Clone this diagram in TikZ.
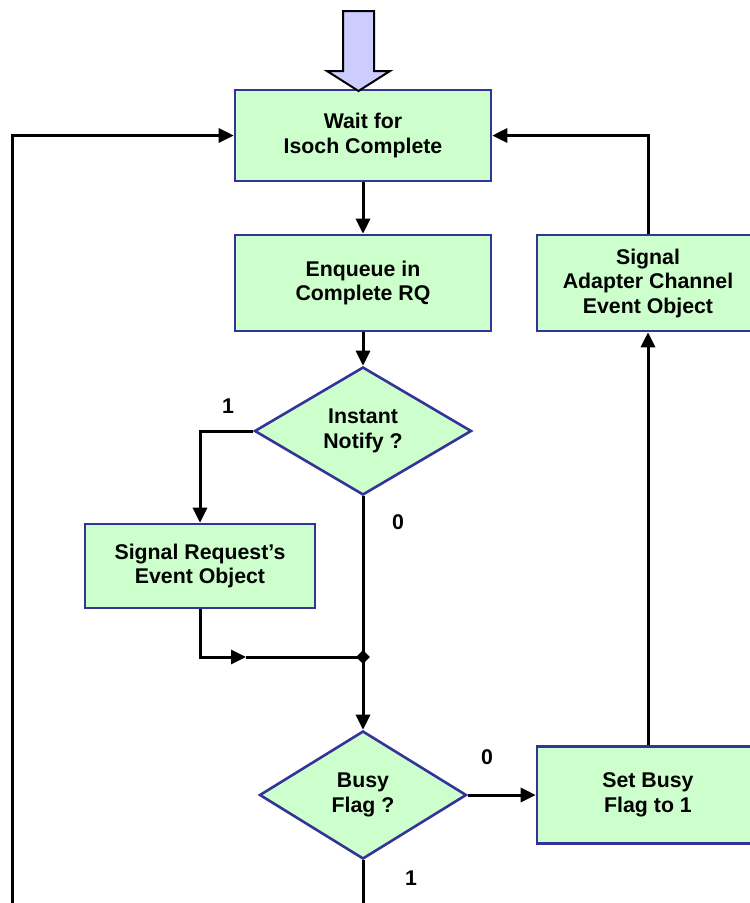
\documentclass[tikz,border=0pt]{standalone}
\usepackage{fontspec}
\setmainfont{Liberation Sans}
\usetikzlibrary{shapes.geometric,arrows.meta}
\definecolor{boxfill}{HTML}{CCFFCC}
\definecolor{boxline}{HTML}{333399}
\definecolor{entryfill}{HTML}{CCCCFF}
\begin{document}
\begin{tikzpicture}[x=1pt,y=-1pt,
  every node/.style={font=\fontsize{21.3}{24.5}\selectfont\bfseries},
  procbox/.style={draw=boxline, fill=boxfill, line width=2.6pt, align=center, inner sep=0pt},
  decision/.style={diamond, draw=boxline, fill=boxfill, line width=2.6pt, align=center, inner sep=0pt},
  flow/.style={line width=3pt, -{Triangle[length=15pt,width=14pt]}},
  plain/.style={line width=3pt},
  lbl/.style={inner sep=0pt}]
\clip (0,0) rectangle (750,903);

% process boxes
\node[procbox, minimum width=256pt, minimum height=91pt] (wait) at (363,135.5) {Wait for\\Isoch Complete};
\node[procbox, minimum width=256pt, minimum height=96pt] (enqueue) at (363,283) {Enqueue in\\Complete RQ};
\node[procbox, minimum width=230pt, minimum height=84pt] (sigreq) at (200,566) {Signal Request’s\\Event Object};
\node[procbox, minimum width=222pt, minimum height=96pt] (adapter) at (648,283) {Signal\\Adapter Channel\\Event Object};
\node[procbox, minimum width=222pt, minimum height=97pt] (setbusy) at (648,795) {Set Busy\\Flag to 1};

% decisions
\node[decision, aspect=1.695, minimum width=217pt, minimum height=128pt] (instant) at (363,431) {Instant\\Notify ?};
\node[decision, aspect=1.617, minimum width=207pt, minimum height=128pt] (busy) at (363,795) {Busy\\Flag ?};

% branch labels
\node[lbl] (l1a) at (228,406) {1};
\node[lbl] (l0a) at (398,522) {0};
\node[lbl] (l0b) at (487,757) {0};
\node[lbl] (l1b) at (411,878) {1};

% join point
\node[diamond, fill=black, minimum size=14pt, inner sep=0pt] (join) at (363,657) {};
\coordinate (mid) at (246,657);
\coordinate (leftbottom) at (12,903);
\coordinate (midbottom) at (363,903);

% connectors
\draw[flow] (wait.south) -- (enqueue.north);
\draw[flow] (enqueue.south) -- (instant.north);
\draw[flow] (instant.west) -| (sigreq.north);
\draw[flow] (sigreq.south) |- (mid);
\draw[plain] (mid) -- (join.center);
\draw[plain] (instant.south) -- (join.center);
\draw[flow] (join.center) -- (busy.north);
\draw[flow] (busy.east) -- (setbusy.west);
\draw[flow] (setbusy.north) -- (adapter.south);
\draw[flow] (adapter.north) |- (wait.east);
\draw[flow] (leftbottom) |- (wait.west);
\draw[plain] (busy.south) -- (midbottom);

% entry arrow
\draw[black, fill=entryfill, line width=2pt, line join=miter]
  (343,11) -- (374,11) -- (374,71) -- (390,71) -- (358.5,91) -- (327,71) -- (343,71) -- cycle;
\end{tikzpicture}
\end{document}
